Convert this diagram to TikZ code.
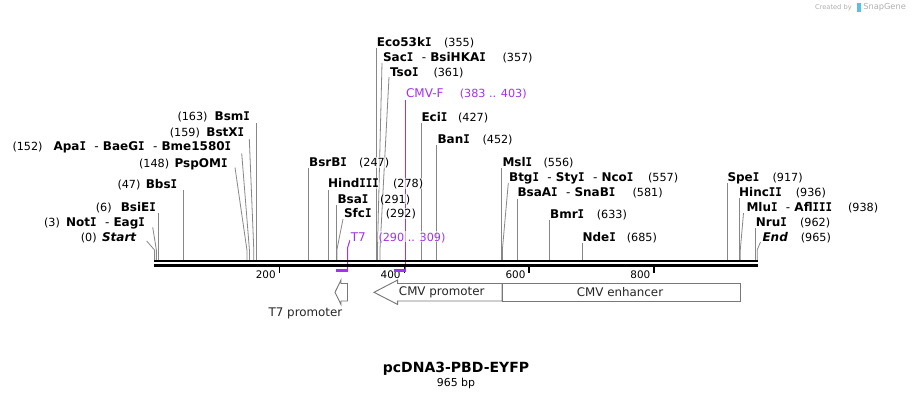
\documentclass[tikz,border=0pt]{standalone}
\usepackage{fontspec}
\setmainfont{DejaVu Sans}
\newfontfamily\monoI{DejaVu Sans Mono}
\definecolor{prim}{RGB}{160,50,240}
\definecolor{conngray}{RGB}{135,135,135}
\definecolor{featgray}{RGB}{120,120,120}
\definecolor{wm}{RGB}{175,175,175}
\definecolor{wmblue}{RGB}{90,190,235}
\newcommand\vI{\scalebox{0.9}[1]{\monoI\bfseries I}}
\newcommand\vtc[2]{\draw[cn] ({154.5+0.6245*#1},#2) -- ({154.5+0.6245*#1},261);}
\newcommand\slc[3]{\draw[cn] (#2,#3) -- ({154.5+0.6245*#1},250) -- ({154.5+0.6245*#1},261);}
\newcommand\rightlab[6]{\node[nm,anchor=west] (#1) at (#2,#3) {#4}; \node[num,anchor=west] (#1-n) at (#5,#3) {#6};}
\newcommand\leftlab[6]{\node[nm,anchor=east] (#1) at (#2,#3) {#4}; \node[num,anchor=west] (#1-n) at (#5,#3) {#6};}
\newcommand\dsh{\ \ {\mdseries -}\ }
\begin{document}
\begin{tikzpicture}[x=0.75pt,y=-0.75pt,
 lbl/.style={inner sep=0.4pt, text height=0.72em, text depth=0.02em, fill=white, fill opacity=0.6, text opacity=1},
 nm/.style={lbl, font=\fontsize{9}{10}\selectfont\bfseries},
 num/.style={lbl, font=\fontsize{8.4}{10}\selectfont},
 pnm/.style={lbl, font=\fontsize{9}{10}\selectfont, text=prim},
 pnum/.style={lbl, font=\fontsize{8.4}{10}\selectfont, text=prim},
 cn/.style={draw=conngray, line width=0.6pt},
 pl/.style={draw=prim, line width=0.75pt},
 pbar/.style={draw=prim, line width=1.7pt},
 seqline/.style={draw=black, line width=2pt},
 tickmark/.style={draw=black, line width=1.2pt},
 ticklbl/.style={font=\fontsize{7.8}{9}\selectfont, anchor=east, inner sep=0pt},
 feat/.style={draw=featgray, fill=white, line width=0.7pt},
 ftxt/.style={font=\fontsize{8.9}{10}\selectfont, text=black!85, inner sep=0pt},
]
\useasboundingbox (0,0) rectangle (912,400);
\fill[white] (0,0) rectangle (912,400);

% watermark
\node[font=\fontsize{5}{6}\selectfont, text=wm, anchor=east, inner sep=0pt] (wm1) at (852,7.5) {Created by};
\fill[wmblue] (857,3) rectangle (861,12);
\node[font=\fontsize{6.2}{7}\selectfont, text=wm, anchor=west, inner sep=0pt] (wm2) at (863,7.5) {SnapGene};

% connectors (right side labels)
\vtc{355}{48}
\slc{357}{382}{63}
\slc{361}{389}{77}
\vtc{427}{123}
\vtc{452}{145}
\vtc{247}{168}
\vtc{278}{190}
\vtc{291}{205}
\slc{292}{343}{219}
\vtc{556}{168}
\slc{557}{508.3}{183}
\vtc{581}{199}
\vtc{633}{220}
\vtc{685}{242.5}
\vtc{917}{183}
\vtc{936}{198}
\slc{938}{743.5}{213}
\vtc{962}{228}
\slc{965}{760.5}{242}
% connectors (left side labels)
\vtc{163}{123}
\slc{159}{249.3}{139}
\slc{152}{241.7}{153.3}
\slc{148}{235}{167.5}
\vtc{47}{190}
\vtc{6}{213.3}
\slc{3}{152.7}{227.3}
\slc{0}{146.7}{241}

% primer connectors
\draw[pl] (405.8,100) -- (405.8,270.5);
\draw[pl] (350,240) -- (347.5,248) -- (347.5,270.5);

% labels right
\rightlab{eco}{376}{42.3}{Eco53k\vI}{443.3}{(355)}
\rightlab{sac}{382.3}{56.7}{Sac\vI\dsh BsiHKA\vI}{501.7}{(357)}
\rightlab{tso}{389.3}{71.7}{Tso\vI}{432.7}{(361)}
\node[pnm,anchor=west] (cmvf) at (405.3,93.3) {CMV-F};
\node[pnum,anchor=west] (cmvf-n) at (459,93.3) {(383 .. 403)};
\rightlab{eci}{420.7}{117.3}{Eci\vI}{457.3}{(427)}
\rightlab{ban}{436.7}{139}{Ban\vI}{481.7}{(452)}
\rightlab{bsrbi}{308.3}{162.3}{BsrB\vI}{358.3}{(247)}
\rightlab{hind}{327.3}{183.3}{Hind\vI\vI\vI}{392.3}{(278)}
\rightlab{bsai}{336.7}{199}{Bsa\vI}{379.3}{(291)}
\rightlab{sfci}{343.3}{213.3}{Sfc\vI}{385}{(292)}
\node[pnm,anchor=west] (t7) at (350,236.7) {T7};
\node[pnum,anchor=west] (t7-n) at (377.7,236.7) {(290 .. 309)};
\rightlab{msl}{501.7}{162.3}{Msl\vI}{542.7}{(556)}
\rightlab{btg}{508.3}{177.3}{Btg\vI\dsh Sty\vI\dsh Nco\vI}{647.3}{(557)}
\rightlab{bsaa}{516.7}{192.3}{BsaA\vI\dsh SnaB\vI}{631.7}{(581)}
\rightlab{bmr}{549.3}{214}{Bmr\vI}{596}{(633)}
\rightlab{nde}{581.7}{237.3}{Nde\vI}{626}{(685)}
\rightlab{spe}{726.7}{176.7}{Spe\vI}{771.7}{(917)}
\rightlab{hinc}{738.3}{191.7}{Hinc\vI\vI}{795}{(936)}
\rightlab{mlu}{745.7}{206.7}{Mlu\vI\dsh Afl\vI\vI\vI}{847.3}{(938)}
\rightlab{nru}{755}{221.7}{Nru\vI}{799.3}{(962)}
\rightlab{endl}{761.7}{236.7}{\itshape End}{800}{(965)}
% labels left
\leftlab{bsm}{250.7}{116}{Bsm\vI}{176.7}{(163)}
\leftlab{bstx}{245}{132}{BstX\vI}{169}{(159)}
\leftlab{apa}{232}{146}{Apa\vI\dsh BaeG\vI\dsh Bme1580\vI}{11.7}{(152)}
\leftlab{psp}{228.3}{163.3}{PspOM\vI}{138.3}{(148)}
\leftlab{bbs}{178}{184}{Bbs\vI}{116.7}{(47)}
\leftlab{bsie}{156.7}{207.3}{BsiE\vI}{95}{(6)}
\leftlab{not}{145.7}{221.7}{Not\vI\dsh Eag\vI}{43.3}{(3)}
\leftlab{start}{137}{236.7}{\itshape Start}{80}{(0)}

% sequence line
\draw[seqline] (154,261) -- (758,261);
\draw[seqline] (154,265.7) -- (758,265.7);

% ticks
\foreach \v/\xx in {200/279.4,400/404.3,600/529.2,800/654.1}{
  \draw[tickmark] (\xx,266.5) -- (\xx,273);
  \node[ticklbl] (tk\v) at (\xx-3.5,274.5) {\v};
}

% primer bars
\draw[pbar] (393.7,270.5) -- (406.2,270.5);
\draw[pbar] (335.6,270.5) -- (347.5,270.5);

% features
\draw[feat] (335,292.3) -- (341,280) -- (341,283.5) -- (347.5,283.5) -- (347.5,301) -- (341,301) -- (341,304.5) -- cycle;
\draw[feat] (374,292.3) -- (397.7,280) -- (397.7,283.5) -- (502,283.5) -- (502,301) -- (397.7,301) -- (397.7,304.5) -- cycle;
\draw[feat] (502,283.5) rectangle (740,301);
\node[ftxt] (cmvp) at (441.7,292.3) {CMV promoter};
\node[ftxt] (cmve) at (620,292.3) {CMV enhancer};
\node[ftxt] (t7p) at (305.5,313) {T7 promoter};

% title
\node[font=\fontsize{10.5}{12}\selectfont\bfseries, inner sep=0pt] (title) at (456,369) {pcDNA3-PBD-EYFP};
\node[font=\fontsize{8.2}{10}\selectfont, inner sep=0pt] (size) at (456,383) {965 bp};
\end{tikzpicture}
\end{document}
